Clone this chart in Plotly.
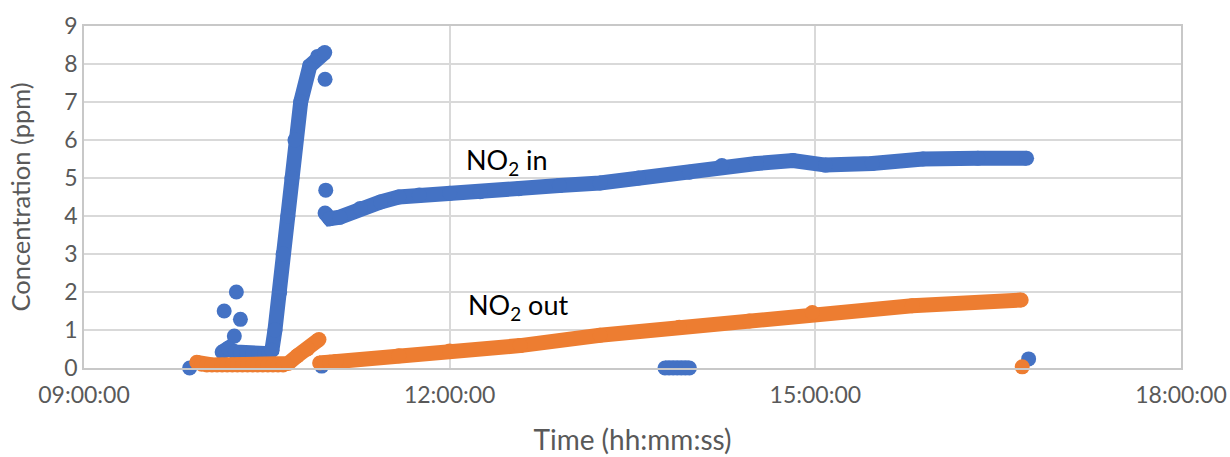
import plotly.graph_objects as go

DAY = "2024-01-01 "

# NO2 in (blue) — None separates unconnected groups of points
no2_in_time = [
    "09:52:00", None,
    "10:09:00", None,
    "10:15:00", None,
    "10:17:00", None,
    "10:14:00", None,
    "10:08:00", "10:11:00", "10:14:30", "10:17:00", "10:20:00", "10:23:00",
    "10:26:00", "10:29:00", "10:31:00",
    "10:32:30", "10:34:00", "10:36:20", "10:38:00", "10:40:20", "10:42:20",
    "10:43:50", "10:46:40", "10:51:10", "10:55:00", "10:58:30", None,
    "10:58:40", None,
    "10:59:00", None,
    "10:57:00", None,
    "10:58:40", "11:01:00", "11:06:00", "11:16:00", "11:26:00", "11:35:00",
    "11:45:00", "12:00:00", "12:15:00", "12:34:00", "12:54:00", "13:14:00",
    "13:33:00", "13:58:00", "14:14:00", "14:31:00", "14:49:00", "15:05:00",
    "15:28:00", "15:53:00", "16:20:00", "16:44:00", None,
    "13:46:00", "13:48:00", "13:50:00", "13:52:00", "13:54:00", "13:56:00",
    "13:58:00", None,
    "16:45:00",
]
no2_in_ppm = [
    0.0, None,
    1.5, None,
    2.0, None,
    1.28, None,
    0.84, None,
    0.42, 0.52, 0.42, 0.4, 0.38, 0.37,
    0.37, 0.38, 0.4,
    0.47, 1.0, 2.0, 3.0, 4.0, 5.0,
    6.0, 7.0, 7.95, 8.2, 8.3, None,
    7.6, None,
    4.68, None,
    0.05, None,
    4.08, 3.93, 3.97, 4.2, 4.37, 4.5,
    4.55, 4.6, 4.64, 4.72, 4.8, 4.87,
    5.0, 5.15, 5.33, 5.38, 5.46, 5.34,
    5.38, 5.5, 5.52, 5.52, None,
    0.0, 0.0, 0.0, 0.0, 0.0, 0.0,
    0.0, None,
    0.24,
]

# NO2 out (orange)
no2_out_time = [
    "09:55:30", "09:58:00", "10:00:30", "10:03:00", "10:05:30", "10:08:00",
    "10:10:30", "10:13:00", "10:15:30", "10:18:00", "10:20:30", "10:23:00",
    "10:25:30", "10:28:00", "10:30:30", "10:33:00", "10:35:30", "10:38:00",
    "10:40:30", "10:45:00", "10:50:00", "10:55:40", None,
    "10:56:00", "10:58:30", "11:01:00", "11:04:00", "11:35:00", "12:00:00",
    "12:34:40", "13:14:00", "13:53:00", "14:27:30", "14:58:30", "15:47:40",
    "16:41:20", None,
    "16:41:50",
]
no2_out_ppm = [
    0.15, 0.1, 0.08, 0.08, 0.08, 0.08,
    0.08, 0.08, 0.08, 0.08, 0.08, 0.08,
    0.08, 0.08, 0.08, 0.08, 0.08, 0.08,
    0.12, 0.32, 0.5, 0.75, None,
    0.13, 0.14, 0.15, 0.17, 0.32, 0.45,
    0.59, 0.86, 1.07, 1.24, 1.46, 1.64,
    1.79, None,
    0.03,
]

y_ticks = [0, 1, 2, 3, 4, 5, 6, 7, 8, 9]
x_tick_labels = ["09:00:00", "12:00:00", "15:00:00", "18:00:00"]


def to_dt(ts):
    return [None if t is None else DAY + t for t in ts]


BLUE = "#4472C4"
ORANGE = "#ED7D31"
FONT = "Lato"
GRAY = "#595959"

fig = go.Figure()
fig.add_trace(go.Scatter(
    x=to_dt(no2_in_time), y=no2_in_ppm, mode="lines+markers",
    line=dict(color=BLUE, width=15), marker=dict(color=BLUE, size=15),
    connectgaps=False, cliponaxis=False, name="NO2 in", showlegend=False,
))
fig.add_trace(go.Scatter(
    x=to_dt(no2_out_time), y=no2_out_ppm, mode="lines+markers",
    line=dict(color=ORANGE, width=15), marker=dict(color=ORANGE, size=15),
    connectgaps=False, cliponaxis=False, name="NO2 out", showlegend=False,
))

fig.add_annotation(x=DAY + "12:07:00", y=5.43, text="NO<sub>2</sub> in",
                   showarrow=False, xanchor="left", yanchor="middle",
                   font=dict(family=FONT, size=27, color="#000000"))
fig.add_annotation(x=DAY + "12:08:00", y=1.62, text="NO<sub>2</sub> out",
                   showarrow=False, xanchor="left", yanchor="middle",
                   font=dict(family=FONT, size=27, color="#000000"))

fig.update_layout(
    width=1230, height=457,
    margin=dict(l=84, r=49, t=26, b=89),
    paper_bgcolor="white", plot_bgcolor="white",
    font=dict(family=FONT, size=23, color=GRAY),
)
fig.update_xaxes(
    type="date", automargin=False,
    range=[DAY + "09:00:00", DAY + "18:00:00"],
    tickvals=[DAY + t for t in x_tick_labels],
    ticktext=x_tick_labels,
    showgrid=True, gridcolor="#d9d9d9", gridwidth=1.5,
    showline=True, linecolor="#c8c8c8", linewidth=1.5, mirror=True,
    ticks="outside", ticklen=6, tickcolor="rgba(0,0,0,0)",
    title=dict(text="Time (hh:mm:ss)", standoff=23,
               font=dict(family=FONT, size=28, color=GRAY)),
    tickfont=dict(family=FONT, size=23, color=GRAY),
    zeroline=False,
)
fig.update_yaxes(
    automargin=False,
    range=[0, 9], tickvals=y_ticks,
    showgrid=True, gridcolor="#d9d9d9", gridwidth=1.5,
    showline=True, linecolor="#c8c8c8", linewidth=1.5, mirror=True,
    ticks="", zeroline=False,
    title=dict(text="Concentration (ppm)", standoff=26,
               font=dict(family=FONT, size=25.5, color=GRAY)),
    tickfont=dict(family=FONT, size=23, color=GRAY),
)

fig.write_html(
    "out.html",
    config={"displayModeBar": False},
    post_script="document.body.style.margin='0';document.body.style.overflow='hidden';",
)
